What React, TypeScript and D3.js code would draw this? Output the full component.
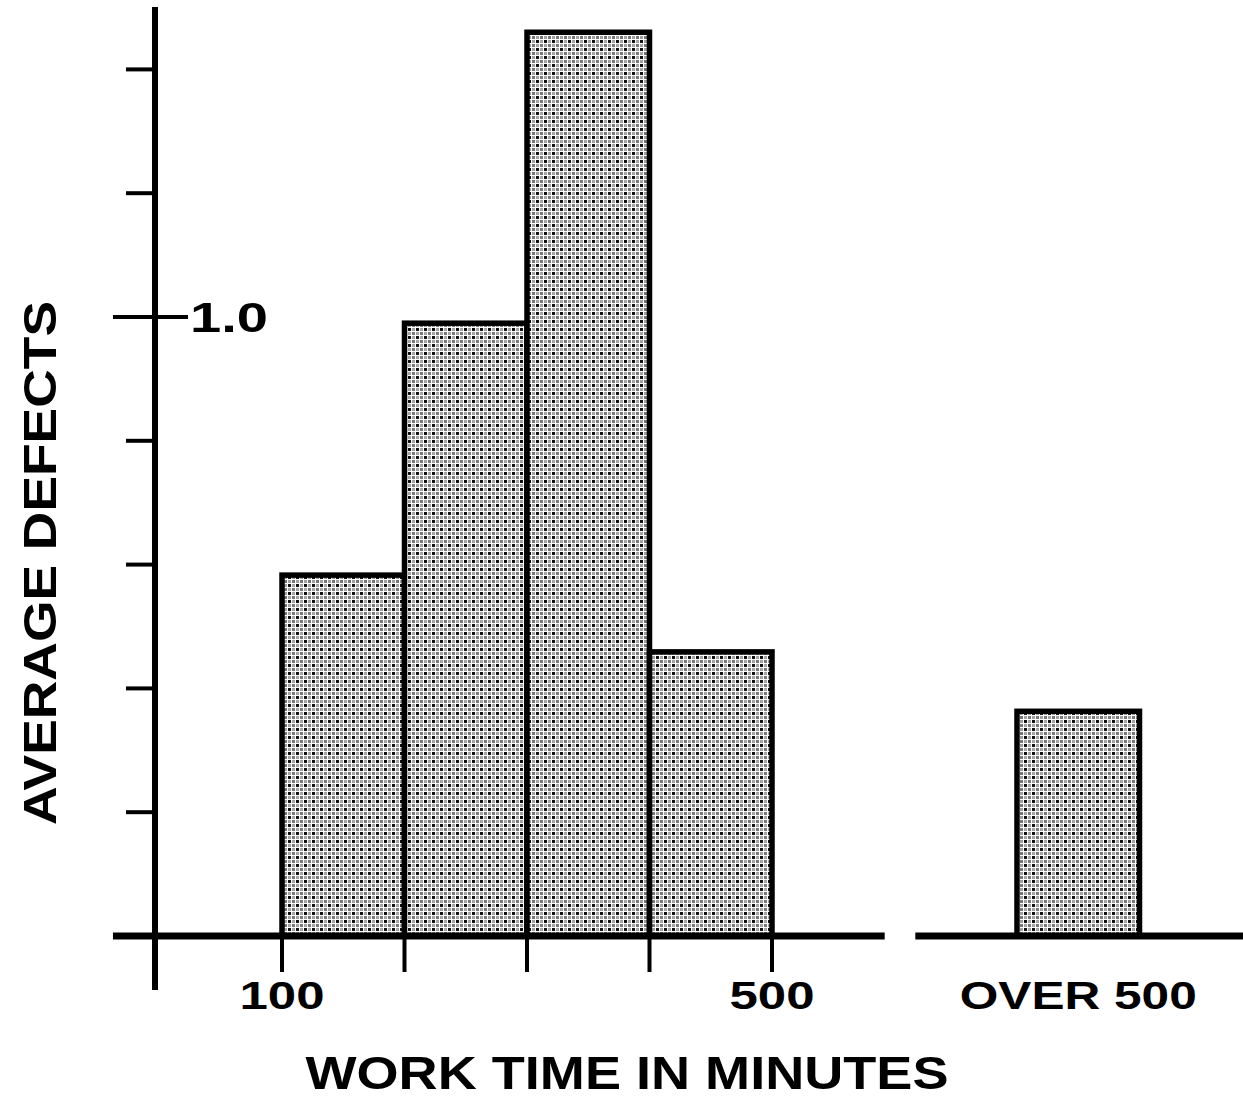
import React from "react";
import * as d3 from "d3";

const binStarts = [100, 200, 300, 400];
const binValues = [0.583, 0.99, 1.46, 0.459];
const overLabel = "OVER 500";
const overValue = 0.363;
const yTickValues = [0.2, 0.4, 0.6, 0.8, 1.0, 1.2, 1.4];
const xTickLabels = [
  { v: 100, t: "100" },
  { v: 500, t: "500" },
];
const yTitle = "AVERAGE DEFECTS";
const xTitle = "WORK TIME IN MINUTES";

const W = 1243;
const H = 1100;
const FONT = "'Liberation Sans', Arial, Helvetica, sans-serif";

export default function App() {
  const x = d3.scaleLinear().domain([100, 500]).range([282, 772]);
  const y = d3.scaleLinear().domain([0, 1]).range([936, 317]);
  const binW = 100;
  const overPos = 700; // position of the broken-axis "over" bin in scale units
  const axisX = 155;

  return (
    <svg
      width={W}
      height={H}
      style={{ position: "absolute", left: 0, top: 0, background: "#fff" }}
      fontFamily={FONT}
    >
      <defs>
        <pattern id="stip" width={8} height={8} patternUnits="userSpaceOnUse">
          <rect width={8} height={8} fill="#fff" />
          <rect x={0} y={0} width={3} height={3} fill="#111" />
          <rect x={4} y={4} width={3} height={3} fill="#777" />
          <rect x={4} y={0} width={3} height={3} fill="#a0a0a0" />
          <rect x={0} y={4} width={3} height={3} fill="#a0a0a0" />
        </pattern>
      </defs>

      {/* bars */}
      {binStarts.map((s, i) => (
        <rect
          key={s}
          x={x(s)}
          y={y(binValues[i])}
          width={x(s + binW) - x(s)}
          height={y(0) - y(binValues[i])}
          fill="url(#stip)"
          stroke="#000"
          strokeWidth={5.5}
        />
      ))}
      <rect
        x={x(overPos)}
        y={y(overValue)}
        width={x(overPos + binW) - x(overPos)}
        height={y(0) - y(overValue)}
        fill="url(#stip)"
        stroke="#000"
        strokeWidth={5.5}
      />

      {/* x axis segments */}
      <line x1={x(-38)} x2={x(592)} y1={y(0)} y2={y(0)} stroke="#000" strokeWidth={7} />
      <line x1={x(617)} x2={W} y1={y(0)} y2={y(0)} stroke="#000" strokeWidth={7} />
      {/* x ticks */}
      {[...binStarts, 500].map((v) => (
        <line key={v} x1={x(v)} x2={x(v)} y1={y(0)} y2={y(0) + 36} stroke="#000" strokeWidth={4} />
      ))}

      {/* y axis */}
      <line x1={axisX} x2={axisX} y1={7} y2={990} stroke="#000" strokeWidth={6} />
      {yTickValues.map((v) => {
        const major = Math.abs(v - 1) < 1e-6;
        return (
          <line
            key={v}
            x1={major ? 113 : 126}
            x2={major ? 188 : axisX}
            y1={y(v)}
            y2={y(v)}
            stroke="#000"
            strokeWidth={4}
          />
        );
      })}
      <text x={190} y={y(1) + 15} fontSize={42} fontWeight="bold" textLength={78} lengthAdjust="spacingAndGlyphs">
        1.0
      </text>

      {/* x tick labels */}
      {xTickLabels.map((d) => (
        <text
          key={d.t}
          x={x(d.v)}
          y={1009}
          fontSize={38}
          fontWeight="bold"
          textAnchor="middle"
          textLength={85}
          lengthAdjust="spacingAndGlyphs"
        >
          {d.t}
        </text>
      ))}
      <text
        x={x(overPos + binW / 2)}
        y={1009}
        fontSize={38}
        fontWeight="bold"
        textAnchor="middle"
        textLength={237}
        lengthAdjust="spacingAndGlyphs"
      >
        {overLabel}
      </text>

      {/* titles */}
      <text
        x={627}
        y={1089}
        fontSize={46}
        fontWeight="bold"
        textAnchor="middle"
        textLength={643}
        lengthAdjust="spacingAndGlyphs"
      >
        {xTitle}
      </text>
      <text
        transform={`translate(56, 563) rotate(-90)`}
        fontSize={47}
        fontWeight="bold"
        textAnchor="middle"
        textLength={524}
        lengthAdjust="spacingAndGlyphs"
      >
        {yTitle}
      </text>
    </svg>
  );
}
